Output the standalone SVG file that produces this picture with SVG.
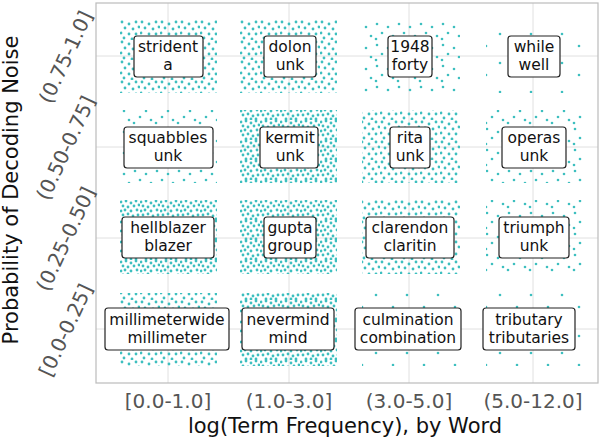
<svg xmlns="http://www.w3.org/2000/svg" width="610" height="438" viewBox="0 0 610 438">
<style>
.g{stroke:#e0e0e0;stroke-width:1}
.lb rect{fill:#fff;stroke:#222;stroke-width:1.2}
.lb text{font-family:"DejaVu Sans",sans-serif;font-size:15.5px;fill:#111;text-anchor:middle}
.tk{font-family:"DejaVu Sans",sans-serif;font-size:20px;fill:#555}
.ax{font-family:"DejaVu Sans",sans-serif;font-size:21px;fill:#111}
circle{fill:#3dbfbf}
</style>
<defs>
<pattern id="pD" width="20" height="20" patternUnits="userSpaceOnUse">
<circle cx="1" cy="2" r="1.4"/><circle cx="6" cy="1" r="1.4"/><circle cx="11" cy="3" r="1.4"/><circle cx="16" cy="1" r="1.4"/><circle cx="3" cy="6" r="1.4"/><circle cx="8" cy="7" r="1.4"/><circle cx="14" cy="6" r="1.4"/><circle cx="19" cy="5" r="1.4"/><circle cx="1" cy="11" r="1.4"/><circle cx="5" cy="10" r="1.4"/><circle cx="11" cy="11" r="1.4"/><circle cx="17" cy="10" r="1.4"/><circle cx="3" cy="15" r="1.4"/><circle cx="8" cy="14" r="1.4"/><circle cx="13" cy="16" r="1.4"/><circle cx="18" cy="15" r="1.4"/><circle cx="6" cy="19" r="1.4"/><circle cx="11" cy="19" r="1.4"/><circle cx="16" cy="19" r="1.4"/>
</pattern>
<pattern id="pM" width="20" height="20" patternUnits="userSpaceOnUse">
<circle cx="2" cy="2" r="1.4"/><circle cx="9" cy="4" r="1.4"/><circle cx="16" cy="2" r="1.4"/><circle cx="5" cy="8" r="1.4"/><circle cx="13" cy="9" r="1.4"/><circle cx="19" cy="7" r="1.4"/><circle cx="1" cy="13" r="1.4"/><circle cx="9" cy="14" r="1.4"/><circle cx="16" cy="14" r="1.4"/><circle cx="4" cy="18" r="1.4"/><circle cx="12" cy="19" r="1.4"/>
</pattern>
<pattern id="pS" width="22" height="21" patternUnits="userSpaceOnUse">
<circle cx="3" cy="3" r="1.3"/><circle cx="14" cy="6" r="1.3"/><circle cx="8" cy="12" r="1.3"/><circle cx="19" cy="15" r="1.3"/><circle cx="2" cy="18" r="1.3"/>
</pattern>
<pattern id="pV" width="31" height="29" patternUnits="userSpaceOnUse">
<circle cx="4" cy="5" r="1.3"/><circle cx="21" cy="17" r="1.3"/>
</pattern>
</defs>
<rect x="0" y="0" width="610" height="438" fill="#fff"/>
<g id="grid">
<line class="g" x1="168" y1="3" x2="168" y2="383"/><line class="g" x1="289" y1="3" x2="289" y2="383"/><line class="g" x1="409" y1="3" x2="409" y2="383"/><line class="g" x1="533" y1="3" x2="533" y2="383"/>
<line class="g" x1="96" y1="56" x2="598" y2="56"/><line class="g" x1="96" y1="147" x2="598" y2="147"/><line class="g" x1="96" y1="238" x2="598" y2="238"/><line class="g" x1="96" y1="329" x2="598" y2="329"/>
<rect x="96" y="3" width="502" height="380" fill="none" stroke="#bbb" stroke-width="1.2"/>
</g>
<g id="points">
<rect x="120" y="20" width="97" height="73" fill="url(#pM)"/>
<rect x="240" y="20" width="97" height="73" fill="url(#pM)"/>
<rect x="362" y="20" width="98" height="73" fill="url(#pS)"/>
<rect x="486" y="20" width="96" height="73" fill="url(#pV)"/>
<rect x="120" y="110" width="97" height="73" fill="url(#pS)"/>
<rect x="240" y="110" width="97" height="73" fill="url(#pD)"/>
<rect x="362" y="110" width="98" height="73" fill="url(#pM)"/>
<rect x="486" y="110" width="96" height="73" fill="url(#pS)"/>
<rect x="120" y="200" width="97" height="74" fill="url(#pD)"/>
<rect x="240" y="200" width="97" height="74" fill="url(#pD)"/>
<rect x="362" y="200" width="98" height="74" fill="url(#pM)"/>
<rect x="486" y="200" width="96" height="74" fill="url(#pS)"/>
<rect x="120" y="293" width="97" height="73" fill="url(#pM)"/>
<rect x="240" y="293" width="97" height="73" fill="url(#pD)"/>
<rect x="362" y="293" width="98" height="73" fill="url(#pV)"/>
<rect x="486" y="293" width="96" height="73" fill="url(#pV)"/>
</g>
<g id="n11" class="lb"><rect x="134" y="36" width="69" height="41" rx="3"/><text x="168" y="52">strident</text><text x="168" y="70">a</text></g>
<g id="n12" class="lb"><rect x="264" y="36" width="52" height="41" rx="3"/><text x="290" y="52">dolon</text><text x="290" y="70">unk</text></g>
<g id="n13" class="lb"><rect x="388" y="36" width="44" height="41" rx="3"/><text x="410" y="52">1948</text><text x="410" y="70">forty</text></g>
<g id="n14" class="lb"><rect x="508" y="36" width="52" height="41" rx="3"/><text x="534" y="52">while</text><text x="534" y="70">well</text></g>
<g id="n21" class="lb"><rect x="124" y="127" width="89" height="41" rx="3"/><text x="168" y="143">squabbles</text><text x="168" y="161">unk</text></g>
<g id="n22" class="lb"><rect x="260" y="127" width="58" height="41" rx="3"/><text x="290" y="143">kermit</text><text x="290" y="161">unk</text></g>
<g id="n23" class="lb"><rect x="390" y="127" width="40" height="41" rx="3"/><text x="410" y="143">rita</text><text x="410" y="161">unk</text></g>
<g id="n24" class="lb"><rect x="502" y="127" width="64" height="41" rx="3"/><text x="534" y="143">operas</text><text x="534" y="161">unk</text></g>
<g id="n31" class="lb"><rect x="122" y="217" width="92" height="41" rx="3"/><text x="168" y="233">hellblazer</text><text x="168" y="251">blazer</text></g>
<g id="n32" class="lb"><rect x="264" y="217" width="52" height="41" rx="3"/><text x="290" y="233">gupta</text><text x="290" y="251">group</text></g>
<g id="n33" class="lb"><rect x="366" y="217" width="88" height="41" rx="3"/><text x="410" y="233">clarendon</text><text x="410" y="251">claritin</text></g>
<g id="n34" class="lb"><rect x="499" y="217" width="70" height="41" rx="3"/><text x="534" y="233">triumph</text><text x="534" y="251">unk</text></g>
<g id="n41" class="lb"><rect x="105" y="308" width="124" height="42" rx="3"/><text x="167" y="325">millimeterwide</text><text x="167" y="343">millimeter</text></g>
<g id="n42" class="lb"><rect x="242" y="308" width="92" height="42" rx="3"/><text x="288" y="325">nevermind</text><text x="288" y="343">mind</text></g>
<g id="n43" class="lb"><rect x="355" y="308" width="106" height="42" rx="3"/><text x="408" y="325">culmination</text><text x="408" y="343">combination</text></g>
<g id="n44" class="lb"><rect x="483" y="308" width="92" height="42" rx="3"/><text x="529" y="325">tributary</text><text x="529" y="343">tributaries</text></g>
<g id="xticks">
<text class="tk" x="168" y="408" text-anchor="middle">[0.0-1.0]</text>
<text class="tk" x="289" y="408" text-anchor="middle">(1.0-3.0]</text>
<text class="tk" x="409" y="408" text-anchor="middle">(3.0-5.0]</text>
<text class="tk" x="533" y="408" text-anchor="middle">(5.0-12.0]</text>
</g>
<g id="yticks">
<text class="tk" transform="translate(72,60) rotate(-65)" text-anchor="middle">(0.75-1.0]</text>
<text class="tk" transform="translate(72,151) rotate(-65)" text-anchor="middle">(0.50-0.75]</text>
<text class="tk" transform="translate(72,242) rotate(-65)" text-anchor="middle">(0.25-0.50]</text>
<text class="tk" transform="translate(72,333) rotate(-65)" text-anchor="middle">[0.0-0.25]</text>
</g>
<text class="ax" x="345" y="433" text-anchor="middle">log(Term Frequency), by Word</text>
<text class="ax" transform="translate(18,190) rotate(-90)" text-anchor="middle">Probability of Decoding Noise</text>
</svg>
